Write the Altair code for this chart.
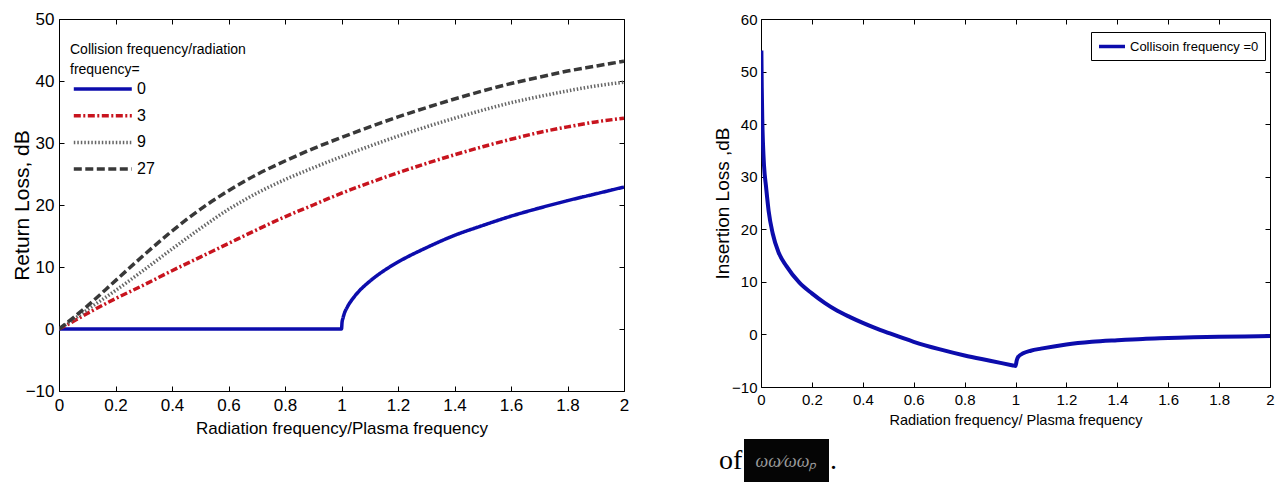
import altair as alt
import pandas as pd

SANS = "Liberation Sans, Arial, sans-serif"
SERIF = "Liberation Serif, Times New Roman, serif"

# ---------------- Left panel: return loss ----------------
rl_freq = [0, 0.05, 0.1, 0.2, 0.3, 0.4, 0.5, 0.6, 0.7, 0.8, 0.9, 1.0,
           1.1, 1.2, 1.3, 1.4, 1.5, 1.6, 1.7, 1.8, 1.9, 2.0]
rl_3 = [0, 1.2, 2.5, 4.9, 7.1, 9.4, 11.6, 13.8, 16.0, 18.1, 20.0, 21.9,
        23.6, 25.2, 26.7, 28.1, 29.4, 30.6, 31.7, 32.6, 33.4, 34.0]
rl_9 = [0, 1.5, 3.1, 6.2, 9.5, 12.9, 16.2, 19.3, 21.9, 24.1, 26.0, 27.8,
        29.5, 31.1, 32.6, 34.0, 35.3, 36.5, 37.5, 38.4, 39.2, 39.8]
rl_27 = [0, 1.8, 3.7, 7.8, 11.9, 15.8, 19.3, 22.3, 24.9, 27.1, 29.1, 30.9,
         32.6, 34.2, 35.7, 37.1, 38.4, 39.6, 40.6, 41.6, 42.4, 43.2]
rl0_freq = [0, 0.5, 1.0, 1.002, 1.005, 1.01, 1.02, 1.04, 1.06, 1.1, 1.15,
            1.2, 1.3, 1.4, 1.5, 1.6, 1.7, 1.8, 1.9, 2.0]
rl_0 = [0, 0, 0, 1.1, 1.7, 2.5, 3.5, 4.9, 6.0, 7.7, 9.4,
        10.8, 13.1, 15.1, 16.7, 18.2, 19.5, 20.7, 21.8, 22.9]

series_order = ["0", "3", "9", "27"]
series_colors = ["#0c0cac", "#c8141e", "#666666", "#383838"]
series_dashes = [[1, 0], [7, 2.5, 2, 2.5], [1.5, 2], [8, 3.5]]

# ---------------- Right panel: insertion loss ----------------
il_freq = [0.0015, 0.003, 0.005, 0.008, 0.012, 0.02, 0.03, 0.046, 0.07, 0.1,
           0.15, 0.2, 0.25, 0.3, 0.35, 0.4, 0.45, 0.5, 0.6, 0.7, 0.8, 0.9,
           0.99, 1.0, 1.005, 1.01, 1.03, 1.06, 1.1, 1.2, 1.3, 1.4, 1.5, 1.6,
           1.7, 1.8, 1.9, 2.0]
il_val = [54, 47, 41, 36, 32, 28, 23.5, 19.2, 15.5, 13.0,
          9.9, 7.8, 6.0, 4.5, 3.3, 2.2, 1.2, 0.3, -1.4, -2.8, -4.0, -5.0,
          -5.9, -6.0, -4.9, -4.3, -3.6, -3.1, -2.7, -1.9, -1.4, -1.1, -0.85, -0.7,
          -0.55, -0.45, -0.38, -0.3]
il_label = "Collisoin frequency =0"

x_ticks = [0, 0.2, 0.4, 0.6, 0.8, 1, 1.2, 1.4, 1.6, 1.8, 2]
rl_yticks = [-10, 0, 10, 20, 30, 40, 50]
il_yticks = [-10, 0, 10, 20, 30, 40, 50, 60]

# ---------------- tables ----------------
rows = []
for f, v in zip(rl0_freq, rl_0):
    rows.append({"f": f, "v": v, "s": "0"})
for name, vals in [("3", rl_3), ("9", rl_9), ("27", rl_27)]:
    for f, v in zip(rl_freq, vals):
        rows.append({"f": f, "v": v, "s": name})
rl_df = pd.DataFrame(rows)
il_df = pd.DataFrame({"f": il_freq, "v": il_val, "s": [il_label] * len(il_freq)})

LW, LH = 565, 372
RW, RH = 509, 368


def inward_ticks(df, xs, ys, xvals, yvals, W, H):
    common = dict(labels=False, title=None, domain=False, grid=False,
                  ticks=True, tickSize=5, tickColor="#000", tickWidth=1)
    a = alt.Chart(df).mark_point(opacity=0).encode(
        x=alt.X("f:Q", scale=xs, axis=alt.Axis(orient="top", offset=-H, values=xvals, **common)),
        y=alt.Y("v:Q", scale=ys, axis=alt.Axis(orient="right", offset=-W, values=yvals, **common)),
    )
    b = alt.Chart(df).mark_point(opacity=0).encode(
        x=alt.X("f:Q", scale=xs, axis=alt.Axis(orient="bottom", offset=-H, values=xvals, **common)),
        y=alt.Y("v:Q", scale=ys, axis=alt.Axis(orient="left", offset=-W, values=yvals, **common)),
    )
    return a, b


# ---------------- left chart ----------------
lxs = alt.Scale(domain=[0, 2], nice=False, zero=False)
lys = alt.Scale(domain=[-10, 50], nice=False, zero=False)

left_legend = alt.Legend(
    orient="none", legendX=11, legendY=24, padding=0,
    title=["Collision frequency/radiation", "frequency="],
    titleFont=SANS, titleFontSize=14, titleFontWeight="normal", titleColor="#000",
    titleLimit=600, titleLineHeight=20, titlePadding=-3,
    labelFont=SANS, labelFontSize=16, labelColor="#000", labelOffset=37, labelLimit=100,
    symbolType="M-0.85,0H3.55", symbolSize=695, symbolStrokeWidth=3.5,
    rowPadding=3.7, direction="vertical",
)

left_lines = alt.Chart(rl_df).mark_line(strokeWidth=3.5, interpolate="monotone", clip=True).encode(
    x=alt.X("f:Q", scale=lxs, axis=alt.Axis(
        values=x_ticks, format="~g", title="Radiation frequency/Plasma frequency",
        titleFont=SANS, titleFontSize=17, titleFontWeight="normal", titleColor="#000", titlePadding=7,
        labelFont=SANS, labelFontSize=17, labelColor="#000", labelPadding=6,
        labelFlush=False, labelOverlap=False, tickSize=0, domain=False, grid=False)),
    y=alt.Y("v:Q", scale=lys, axis=alt.Axis(
        values=rl_yticks, title="Return Loss, dB",
        titleFont=SANS, titleFontSize=21, titleFontWeight="normal", titleColor="#000", titleX=-27,
        labelFont=SANS, labelFontSize=17, labelColor="#000", labelPadding=5,
        labelFlush=False, labelOverlap=False, tickSize=0, domain=False, grid=False)),
    color=alt.Color("s:N", sort=series_order,
                    scale=alt.Scale(domain=series_order, range=series_colors), legend=left_legend),
    strokeDash=alt.StrokeDash("s:N", sort=series_order,
                              scale=alt.Scale(domain=series_order, range=series_dashes), legend=left_legend),
    order=alt.Order("f:Q"),
)
lt1, lt2 = inward_ticks(rl_df, lxs, lys, x_ticks, rl_yticks, LW, LH)
left = alt.layer(left_lines, lt1, lt2).resolve_axis(x="independent", y="independent").properties(
    width=LW, height=LH)

# ---------------- right chart ----------------
rxs = alt.Scale(domain=[0, 2], nice=False, zero=False)
rys = alt.Scale(domain=[-10, 60], nice=False, zero=False)

right_line = alt.Chart(il_df).mark_line(strokeWidth=4, interpolate="monotone", clip=True).encode(
    x=alt.X("f:Q", scale=rxs, axis=alt.Axis(
        values=x_ticks, format="~g", title="Radiation frequency/ Plasma frequency",
        titleFont=SANS, titleFontSize=14.5, titleFontWeight="normal", titleColor="#000", titlePadding=6,
        labelFont=SANS, labelFontSize=15, labelColor="#000", labelPadding=5,
        labelFlush=False, labelOverlap=False, tickSize=0, domain=False, grid=False)),
    y=alt.Y("v:Q", scale=rys, axis=alt.Axis(
        values=il_yticks, title="Insertion Loss ,dB",
        titleFont=SANS, titleFontSize=19, titleFontWeight="normal", titleColor="#000", titleX=-29,
        labelFont=SANS, labelFontSize=15, labelColor="#000", labelPadding=4,
        labelFlush=False, labelOverlap=False, tickSize=0, domain=False, grid=False)),
    color=alt.Color("s:N", scale=alt.Scale(domain=[il_label], range=["#0c0cac"]), legend=alt.Legend(
        orient="none", legendX=330, legendY=13, title=None,
        labelFont=SANS, labelFontSize=13, labelColor="#000", labelOffset=16, labelLimit=400,
        symbolType="M-1,0H3", symbolSize=169, symbolStrokeWidth=3.5,
        strokeColor="#000", fillColor="#fff", padding=6)),
    order=alt.Order("f:Q"),
)
rt1, rt2 = inward_ticks(il_df, rxs, rys, x_ticks, il_yticks, RW, RH)

note_df = pd.DataFrame({"t": ["of"]})
of_text = alt.Chart(note_df).mark_text(font=SERIF, fontSize=28, color="#000", align="left",
                                        baseline="alphabetic").encode(
    x=alt.value(-42), y=alt.value(450), text="t:N")
box = alt.Chart(note_df).mark_rect(color="#050505").encode(
    x=alt.value(-17), x2=alt.value(68), y=alt.value(420), y2=alt.value(463))
sym_df = pd.DataFrame({"t": ["ωω∕ωωₚ"]})
sym_text = alt.Chart(sym_df).mark_text(font=SERIF, fontSize=18, fontStyle="italic", color="#9a9a9a",
                                        align="center", baseline="alphabetic").encode(
    x=alt.value(25), y=alt.value(448), text="t:N")
dot_df = pd.DataFrame({"t": ["."]})
dot_text = alt.Chart(dot_df).mark_text(font=SERIF, fontSize=28, color="#000", align="left",
                                        baseline="alphabetic").encode(
    x=alt.value(69), y=alt.value(450), text="t:N")

right = alt.layer(right_line, rt1, rt2, box, sym_text, of_text, dot_text).resolve_axis(
    x="independent", y="independent").properties(width=RW, height=RH)

chart = alt.hconcat(left, right, spacing=137, bounds="flush").resolve_scale(
    color="independent", strokeDash="independent"
).properties(
    padding={"left": 10, "top": 9, "right": 0, "bottom": 0},
    background="white",
).configure_view(stroke="#000", strokeWidth=1)

chart.save("out.html", embed_options={"renderer": "svg", "actions": False})
